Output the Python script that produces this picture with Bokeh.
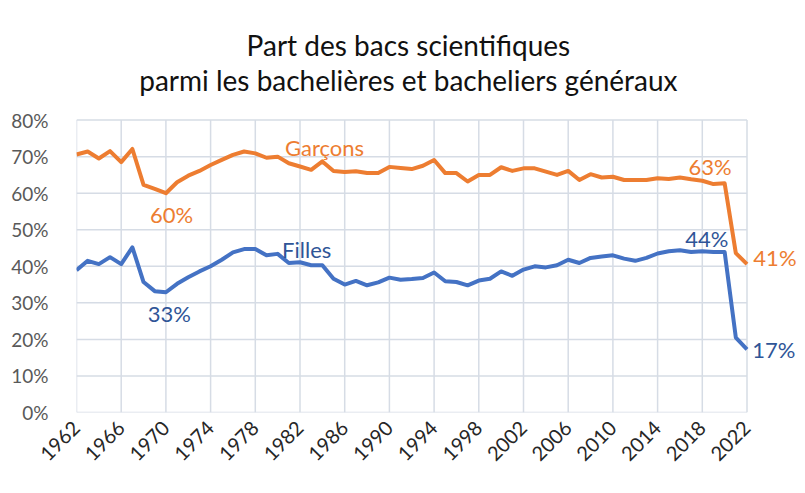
import math
from bokeh.plotting import figure
from bokeh.models import Range1d, FixedTicker, Label
from bokeh.embed import file_html
from bokeh.resources import INLINE

# ---------------- data ----------------
years = list(range(1962, 2023))
garcons = [70.6, 71.4, 69.5, 71.5, 68.5, 72.1, 62.3, 61.2, 60.0, 63.0,
           64.8, 66.1, 67.7, 69.1, 70.5, 71.4, 70.9, 69.7, 70.0, 68.2,
           67.3, 66.4, 68.7, 66.1, 65.8, 66.0, 65.5, 65.5, 67.2, 66.9,
           66.6, 67.5, 69.1, 65.5, 65.5, 63.2, 65.0, 65.0, 67.1, 66.1,
           66.8, 66.8, 65.9, 65.0, 66.1, 63.6, 65.2, 64.3, 64.5, 63.6,
           63.6, 63.6, 64.1, 63.9, 64.3, 63.8, 63.4, 62.5, 62.7, 43.6,
           40.6]
filles = [38.9, 41.5, 40.6, 42.5, 40.6, 45.2, 35.7, 33.2, 32.9, 35.2,
          37.0, 38.6, 40.0, 41.8, 43.8, 44.7, 44.7, 43.0, 43.4, 40.9,
          41.1, 40.3, 40.3, 36.6, 35.0, 36.0, 34.8, 35.6, 36.9, 36.3,
          36.5, 36.8, 38.3, 35.9, 35.7, 34.8, 36.1, 36.6, 38.6, 37.4,
          39.1, 40.0, 39.7, 40.3, 41.8, 40.9, 42.3, 42.7, 43.0, 42.1,
          41.5, 42.3, 43.5, 44.1, 44.4, 43.9, 44.1, 43.9, 43.9, 20.5,
          17.3]
x_tick_years = list(range(1962, 2023, 4))
y_tick_values = [0, 10, 20, 30, 40, 50, 60, 70, 80]
y_tick_labels = ["0%", "10%", "20%", "30%", "40%", "50%", "60%", "70%", "80%"]
title_lines = ["Part des bacs scientifiques",
               "parmi les bachelières et bacheliers généraux"]
series_names = ["Garçons", "Filles"]

ORANGE = "#ED7D31"
BLUE = "#4472C4"
ORANGE_TXT = "#ED7D31"
BLUE_TXT = "#2F5597"
GRID = "#D6DCE5"
FONT = "Lato"

W, H = 805, 493
LEFT, BOTTOM = 76, 81
PX_PER_YEAR = 11.175
PX_PER_PCT = 3.655
x_end = years[0] + (W - LEFT) / PX_PER_YEAR
y_end = (H - BOTTOM) / PX_PER_PCT

p = figure(width=W, height=H, output_backend="svg", toolbar_location=None,
           x_range=Range1d(years[0], x_end), y_range=Range1d(0, y_end),
           min_border_left=LEFT, min_border_right=0, min_border_top=0,
           min_border_bottom=BOTTOM)
p.outline_line_color = None
p.background_fill_color = "white"
p.border_fill_color = "white"
p.xgrid.visible = False
p.ygrid.visible = False

# grid lines limited to the data area
x_lo, x_hi = x_tick_years[0], x_tick_years[-1]
y_lo, y_hi = y_tick_values[0], y_tick_values[-1]
p.segment(x0=[x_lo] * len(y_tick_values), x1=[x_hi] * len(y_tick_values),
          y0=y_tick_values, y1=y_tick_values, line_color=GRID, line_width=1.5)
p.segment(x0=x_tick_years, x1=x_tick_years,
          y0=[y_lo] * len(x_tick_years), y1=[y_hi] * len(x_tick_years),
          line_color=GRID, line_width=1.5)

# axes
p.yaxis.ticker = FixedTicker(ticks=y_tick_values)
p.yaxis.major_label_overrides = {v: l for v, l in zip(y_tick_values, y_tick_labels)}
p.xaxis.ticker = FixedTicker(ticks=x_tick_years)
p.xaxis.major_label_overrides = {y: str(y) for y in x_tick_years}
p.xaxis.major_label_orientation = math.pi / 4
for ax in (p.xaxis, p.yaxis):
    ax.axis_line_color = None
    ax.major_tick_line_color = None
    ax.minor_tick_line_color = None
    ax.major_label_text_font = FONT
p.yaxis.major_label_text_font_size = "19px"
p.xaxis.major_label_text_font_size = "20px"
p.yaxis.major_label_text_color = "#595959"
p.xaxis.major_label_text_color = "#262626"
p.yaxis.major_label_standoff = 22
p.xaxis.major_label_standoff = 6

# lines
p.line(years, garcons, line_color=ORANGE, line_width=4, line_join="round")
p.line(years, filles, line_color=BLUE, line_width=4, line_join="round")

# title (two centred lines)
title_x = 1991.7
for text, ty in zip(title_lines, (100.6, 91.1)):
    p.add_layout(Label(x=title_x, y=ty, text=text, text_align="center",
                       text_baseline="middle", text_font=FONT,
                       text_font_size="28px", text_color="#111111"))

def pct(v):
    return f"{round(v):.0f}%"

i70 = years.index(1970)
i18 = years.index(2018)
i22 = years.index(2022)

annotations = [
    (series_names[0], 1984.2, 72.5, ORANGE_TXT),
    (series_names[1], 1982.6, 44.7, BLUE_TXT),
    (pct(garcons[i70]), 1970.5, 54.1, ORANGE_TXT),
    (pct(filles[i70]), 1970.3, 27.1, BLUE_TXT),
    (pct(garcons[i18]), 2018.7, 67.3, ORANGE_TXT),
    (pct(filles[i18]), 2018.4, 47.5, BLUE_TXT),
    (pct(garcons[i22]), 2024.5, 42.5, ORANGE_TXT),
    (pct(filles[i22]), 2024.4, 17.2, BLUE_TXT),
]
for text, x, y, c in annotations:
    p.add_layout(Label(x=x, y=y, text=text, text_align="center",
                       text_baseline="middle", text_font=FONT,
                       text_font_size="22px", text_color=c))

open("out.html", "w").write(file_html(p, INLINE))
